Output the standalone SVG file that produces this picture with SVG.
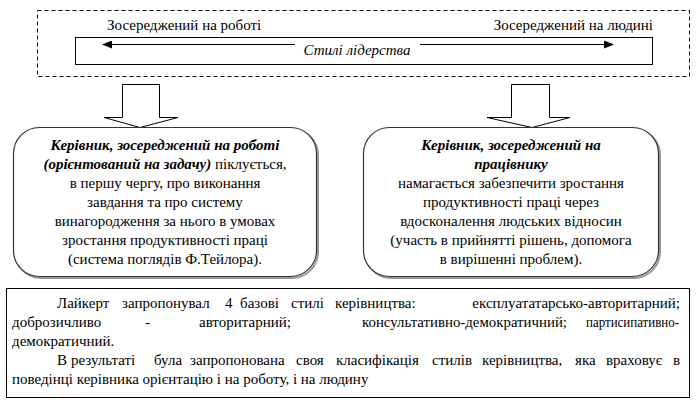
<svg xmlns="http://www.w3.org/2000/svg" width="697" height="406" viewBox="0 0 697 406" font-family="'Liberation Serif', serif" font-size="15">
<defs>
<marker id="ah" markerWidth="10" markerHeight="8" refX="9" refY="4" orient="auto" markerUnits="userSpaceOnUse">
<path d="M0,0 L10,4 L0,8 Z" fill="#000"/>
</marker>
</defs>
<rect width="697" height="406" fill="#fff"/>

<g id="styles-scale">
<rect x="37.5" y="10.5" width="652" height="66" fill="none" stroke="#000" stroke-dasharray="4,3"/>
<rect x="75.5" y="37.5" width="577" height="27" fill="none" stroke="#000"/>
<text x="107" y="30" font-family="'Liberation Serif', serif" font-size="15">Зосереджений на роботі</text>
<text x="653" y="30" text-anchor="end" font-family="'Liberation Serif', serif" font-size="15">Зосереджений на людині</text>
<text x="357" y="55" text-anchor="middle" font-style="italic" font-family="'Liberation Serif', serif" font-size="15">Стилі лідерства</text>
</g>

<g id="connectors" fill="#fff" stroke="#000">
<line x1="295" y1="44.5" x2="103" y2="44.5" marker-end="url(#ah)"/>
<line x1="420" y1="44.5" x2="613" y2="44.5" marker-end="url(#ah)"/>
<path d="M122.5,84.5 H159.5 V117.5 H178 L140,127.5 L104,117.5 H122.5 Z"/>
<path d="M511.5,84.5 H549.5 V117.5 H570 L532,127.5 L487,117.5 H511.5 Z"/>
</g>

<g id="task-oriented" text-anchor="middle">
<rect x="15" y="129" width="303" height="149" rx="26" fill="none" stroke="#999" stroke-width="2"/>
<rect x="13.5" y="127.5" width="303" height="149" rx="26" fill="#fff" stroke="#333" stroke-width="1.2"/>
<text x="165" y="150" font-weight="bold" font-style="italic" font-family="'Liberation Serif', serif" font-size="15">Керівник, зосереджений на роботі</text>
<text x="165" y="169" font-family="'Liberation Serif', serif" font-size="15"><tspan font-weight="bold" font-style="italic">(орієнтований на задачу)</tspan> піклується,</text>
<text x="165" y="188" font-family="'Liberation Serif', serif" font-size="15">в першу чергу, про виконання</text>
<text x="165" y="207" font-family="'Liberation Serif', serif" font-size="15">завдання та про систему</text>
<text x="165" y="226" font-family="'Liberation Serif', serif" font-size="15">винагородження за нього в умовах</text>
<text x="165" y="245" font-family="'Liberation Serif', serif" font-size="15">зростання продуктивності праці</text>
<text x="165" y="264" font-family="'Liberation Serif', serif" font-size="15">(система поглядів Ф.Тейлора).</text>
</g>

<g id="people-oriented" text-anchor="middle">
<rect x="365" y="129" width="295" height="149" rx="26" fill="none" stroke="#999" stroke-width="2"/>
<rect x="363.5" y="127.5" width="295" height="149" rx="26" fill="#fff" stroke="#333" stroke-width="1.2"/>
<text x="511" y="150" font-weight="bold" font-style="italic" font-family="'Liberation Serif', serif" font-size="15">Керівник, зосереджений на</text>
<text x="511" y="169" font-weight="bold" font-style="italic" font-family="'Liberation Serif', serif" font-size="15">працівнику</text>
<text x="511" y="188" font-family="'Liberation Serif', serif" font-size="15">намагається забезпечити зростання</text>
<text x="511" y="207" font-family="'Liberation Serif', serif" font-size="15">продуктивності праці через</text>
<text x="511" y="226" font-family="'Liberation Serif', serif" font-size="15">вдосконалення людських відносин</text>
<text x="511" y="245" font-family="'Liberation Serif', serif" font-size="15">(участь в прийнятті рішень, допомога</text>
<text x="511" y="264" font-family="'Liberation Serif', serif" font-size="15">в вирішенні проблем).</text>
</g>

<g id="likert-note">
<rect x="6.5" y="288.5" width="683" height="109" fill="none" stroke="#000"/>
<text y="308" font-family="'Liberation Serif', serif" font-size="15"><tspan x="57">Лайкерт</tspan><tspan x="122">запропонувал</tspan><tspan x="225">4</tspan><tspan x="240">базові</tspan><tspan x="291">стилі</tspan><tspan x="335">керівництва:</tspan><tspan x="680" text-anchor="end">експлуататарсько-авторитарний;</tspan></text>
<text y="327" font-family="'Liberation Serif', serif" font-size="15"><tspan x="12">доброзичливо</tspan><tspan x="145">-</tspan><tspan x="199">авторитарний;</tspan><tspan x="362" textLength="205" lengthAdjust="spacingAndGlyphs">консультативно-демократичний;</tspan><tspan x="586" textLength="93" lengthAdjust="spacingAndGlyphs">партисипативно-</tspan></text>
<text x="12" y="346" font-family="'Liberation Serif', serif" font-size="15">демократичний.</text>
<text y="365" font-family="'Liberation Serif', serif" font-size="15"><tspan x="57">В</tspan><tspan x="71">результаті</tspan><tspan x="154">була</tspan><tspan x="190">запропонована</tspan><tspan x="296">своя</tspan><tspan x="336">класифікація</tspan><tspan x="432">стилів</tspan><tspan x="482">керівництва,</tspan><tspan x="575">яка</tspan><tspan x="606">враховує</tspan><tspan x="680" text-anchor="end">в</tspan></text>
<text x="12" y="384" font-family="'Liberation Serif', serif" font-size="15">поведінці керівника орієнтацію і на роботу, і на людину</text>
</g>
</svg>
